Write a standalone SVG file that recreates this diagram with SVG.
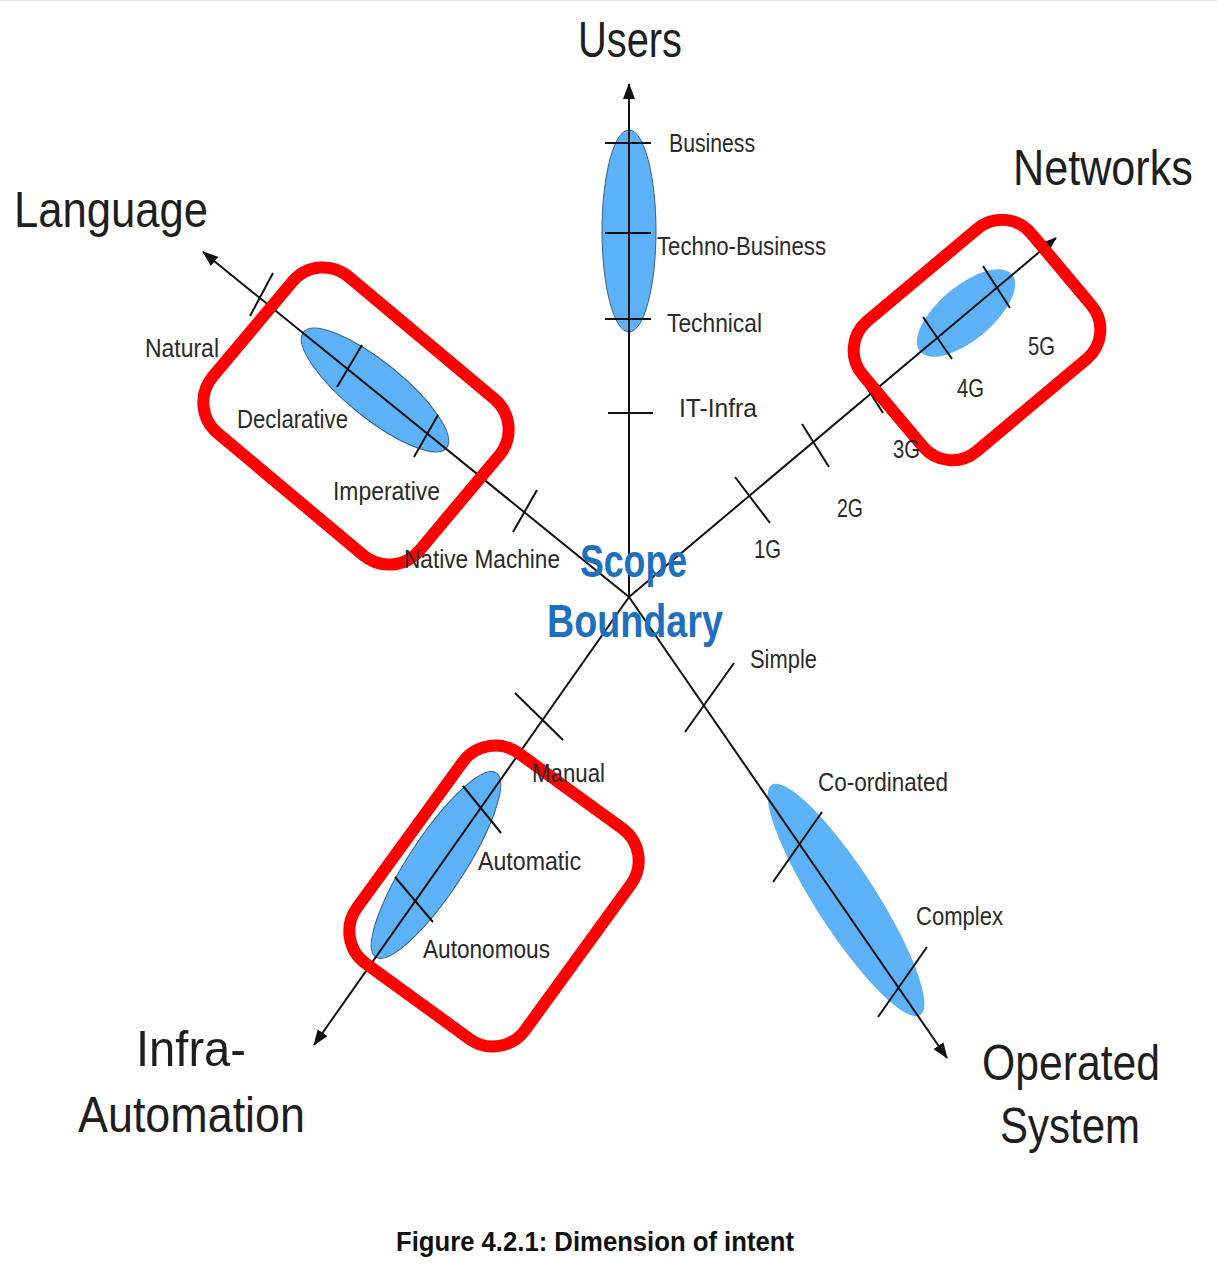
<svg xmlns="http://www.w3.org/2000/svg" width="1217" height="1266" viewBox="0 0 1217 1266">
<defs>
<marker id="arr" viewBox="0 0 16 12" refX="15" refY="6" markerWidth="16" markerHeight="12" markerUnits="userSpaceOnUse" orient="auto">
<path d="M0,0 L16,6 L0,12 z" fill="#111"/>
</marker>
<style>
.ax{stroke:#111;stroke-width:2;fill:none}
.tk{stroke:#111;stroke-width:2}
.el{fill:#5cb1f7;stroke:#35618a;stroke-width:1}
.eln{fill:#5cb1f7;stroke:none}
.lb{font-family:"Liberation Sans",Arial,sans-serif;font-size:26px;fill:#2a2a2a}
.big{font-family:"Liberation Sans",Arial,sans-serif;font-size:50px;fill:#1e1e1e}
.sc{font-family:"Liberation Sans",Arial,sans-serif;font-size:46px;font-weight:bold;fill:#1f6fc0}
.hl{fill:none;stroke:#ff0000;stroke-width:12}
.cap{font-family:"Liberation Sans",Arial,sans-serif;font-size:28px;font-weight:bold;fill:#111}
</style>
</defs>
<rect width="1217" height="1266" fill="#fff"/>
<line x1="0" y1="0.5" x2="1217" y2="0.5" stroke="#dde3ea" stroke-width="1"/>

<g id="ellipses">
<ellipse class="el" cx="629" cy="231" rx="27" ry="101"/>
<ellipse class="el" cx="375" cy="390" rx="92" ry="28" transform="rotate(39 375 390)"/>
<ellipse class="eln" cx="966" cy="313" rx="60" ry="27" transform="rotate(-40 966 313)"/>
<ellipse class="el" cx="436" cy="865" rx="110" ry="28" transform="rotate(-56.8 436 865)"/>
<ellipse class="eln" cx="846" cy="900" rx="137" ry="30" transform="rotate(57.2 846 900)"/>
</g>

<g id="connectors">
<line class="ax" x1="629" y1="597" x2="629" y2="84" marker-end="url(#arr)"/>
<line class="ax" x1="629" y1="597" x2="1056" y2="238" marker-end="url(#arr)"/>
<line class="ax" x1="629" y1="597" x2="203" y2="252" marker-end="url(#arr)"/>
<line class="ax" x1="629" y1="597" x2="314" y2="1045" marker-end="url(#arr)"/>
<line class="ax" x1="629" y1="597" x2="947" y2="1058" marker-end="url(#arr)"/>
</g>

<g id="ticks">
<line class="tk" x1="605" y1="143" x2="651" y2="143"/>
<line class="tk" x1="605" y1="233" x2="651" y2="233"/>
<line class="tk" x1="605" y1="319" x2="651" y2="319"/>
<line class="tk" x1="608" y1="413" x2="653" y2="413"/>
<line class="tk" x1="250" y1="316" x2="273" y2="273"/>
<line class="tk" x1="337" y1="387" x2="362" y2="345"/>
<line class="tk" x1="414" y1="457" x2="438" y2="415"/>
<line class="tk" x1="513" y1="532" x2="537" y2="490"/>
<line class="tk" x1="735" y1="477" x2="770" y2="523"/>
<line class="tk" x1="802" y1="424" x2="829" y2="467"/>
<line class="tk" x1="857" y1="372" x2="883" y2="413"/>
<line class="tk" x1="923" y1="317" x2="952" y2="359"/>
<line class="tk" x1="983" y1="266" x2="1010" y2="308"/>
<line class="tk" x1="685" y1="732" x2="734" y2="663"/>
<line class="tk" x1="773" y1="882" x2="822" y2="812"/>
<line class="tk" x1="878" y1="1017" x2="927" y2="947"/>
<line class="tk" x1="515" y1="693" x2="563" y2="740"/>
<line class="tk" x1="463" y1="786" x2="501" y2="833"/>
<line class="tk" x1="395" y1="877" x2="433" y2="922"/>
</g>

<g id="highlights">
<rect class="hl" x="-135" y="-102" width="270" height="204" rx="40" transform="translate(356 416) rotate(40)"/>
<rect class="hl" x="-110" y="-85" width="220" height="170" rx="38" transform="translate(977 340) rotate(-40)"/>
<rect class="hl" x="-130" y="-104" width="260" height="208" rx="40" transform="translate(494 896) rotate(-54)"/>
</g>

<g id="users-labels">
<text class="big" x="578" y="57" textLength="104" lengthAdjust="spacingAndGlyphs">Users</text>
<text class="lb" x="669" y="152" textLength="86" lengthAdjust="spacingAndGlyphs">Business</text>
<text class="lb" x="657" y="255" textLength="169" lengthAdjust="spacingAndGlyphs">Techno-Business</text>
<text class="lb" x="667" y="332" textLength="95" lengthAdjust="spacingAndGlyphs">Technical</text>
<text class="lb" x="679" y="417" textLength="78" lengthAdjust="spacingAndGlyphs">IT-Infra</text>
</g>

<g id="networks-labels">
<text class="big" x="0" y="0" transform="translate(1013 185) scale(0.865 1)" textLength="208" lengthAdjust="spacingAndGlyphs">Networks</text>
<text class="lb" x="754" y="558" textLength="27" lengthAdjust="spacingAndGlyphs">1G</text>
<text class="lb" x="837" y="517" textLength="26" lengthAdjust="spacingAndGlyphs">2G</text>
<text class="lb" x="893" y="458" textLength="27" lengthAdjust="spacingAndGlyphs">3G</text>
<text class="lb" x="957" y="397" textLength="27" lengthAdjust="spacingAndGlyphs">4G</text>
<text class="lb" x="1028" y="355" textLength="27" lengthAdjust="spacingAndGlyphs">5G</text>
</g>

<g id="language-labels">
<text class="big" x="14" y="227" textLength="194" lengthAdjust="spacingAndGlyphs">Language</text>
<text class="lb" x="145" y="357" textLength="74" lengthAdjust="spacingAndGlyphs">Natural</text>
<text class="lb" x="237" y="428" textLength="111" lengthAdjust="spacingAndGlyphs">Declarative</text>
<text class="lb" x="333" y="500" textLength="107" lengthAdjust="spacingAndGlyphs">Imperative</text>
<text class="lb" x="404" y="568" textLength="156" lengthAdjust="spacingAndGlyphs">Native Machine</text>
</g>

<g id="infra-labels">
<text class="big" x="136" y="1066" textLength="110" lengthAdjust="spacingAndGlyphs">Infra-</text>
<text class="big" x="78" y="1132" textLength="227" lengthAdjust="spacingAndGlyphs">Automation</text>
<text class="lb" x="532" y="782" textLength="73" lengthAdjust="spacingAndGlyphs">Manual</text>
<text class="lb" x="478" y="870" textLength="103" lengthAdjust="spacingAndGlyphs">Automatic</text>
<text class="lb" x="423" y="958" textLength="127" lengthAdjust="spacingAndGlyphs">Autonomous</text>
</g>

<g id="operated-labels">
<text class="big" x="982" y="1080" textLength="178" lengthAdjust="spacingAndGlyphs">Operated</text>
<text class="big" x="1000" y="1143" textLength="140" lengthAdjust="spacingAndGlyphs">System</text>
<text class="lb" x="750" y="668" textLength="67" lengthAdjust="spacingAndGlyphs">Simple</text>
<text class="lb" x="818" y="791" textLength="130" lengthAdjust="spacingAndGlyphs">Co-ordinated</text>
<text class="lb" x="916" y="925" textLength="87" lengthAdjust="spacingAndGlyphs">Complex</text>
</g>

<g id="scope">
<text class="sc" x="580" y="577" textLength="107" lengthAdjust="spacingAndGlyphs">Scope</text>
<text class="sc" x="547" y="637" textLength="176" lengthAdjust="spacingAndGlyphs">Boundary</text>
</g>

<g id="caption">
<text class="cap" x="396" y="1251" textLength="398" lengthAdjust="spacingAndGlyphs">Figure 4.2.1: Dimension of intent</text>
</g>
</svg>
